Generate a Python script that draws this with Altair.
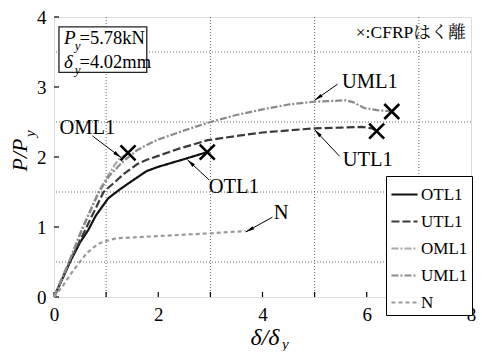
import altair as alt
import pandas as pd
import numpy as np

SERIES = ["OTL1", "UTL1", "OML1", "UML1", "N"]

otl1_x = [0, 0.32, 0.5, 0.66, 0.8, 1.04, 1.25, 1.52, 1.78, 2.0, 2.5, 2.94]
otl1_y = [0, 0.52, 0.78, 0.96, 1.16, 1.41, 1.53, 1.67, 1.80, 1.86, 1.97, 2.07]

utl1_x = [0, 0.32, 0.6, 0.95, 1.36, 1.6, 1.78, 2.4, 2.95, 3.5, 4.0, 4.5, 5.0, 5.5, 5.9, 6.1, 6.19]
utl1_y = [0, 0.53, 0.96, 1.50, 1.77, 1.90, 1.96, 2.12, 2.24, 2.30, 2.35, 2.38, 2.41, 2.42, 2.43, 2.41, 2.37]

oml1_x = [0, 0.3, 0.53, 0.85, 1.05, 1.23, 1.42]
oml1_y = [0, 0.53, 0.96, 1.50, 1.75, 1.96, 2.06]

uml1_x = [0, 0.3, 0.53, 0.85, 1.05, 1.3, 1.6, 1.8, 2.0, 2.5, 3.0, 3.5, 4.0, 4.5, 5.0, 5.6, 5.75, 5.95, 6.2, 6.48]
uml1_y = [0, 0.52, 0.95, 1.48, 1.72, 1.92, 2.10, 2.18, 2.25, 2.38, 2.50, 2.60, 2.68, 2.75, 2.79, 2.81, 2.78, 2.70, 2.67, 2.65]

n_x = [0, 0.16, 0.38, 0.63, 0.85, 1.0, 1.2, 1.5, 2.0, 2.5, 3.0, 3.4, 3.68]
n_y = [0, 0.15, 0.39, 0.63, 0.76, 0.80, 0.84, 0.85, 0.87, 0.89, 0.91, 0.93, 0.94]

# CFRP debonding markers
peel_x = [2.94, 6.19, 1.42, 6.48]
peel_y = [2.07, 2.37, 2.06, 2.65]

# annotation labels and arrows
ann_text = ["OML1", "OTL1", "UTL1", "UML1", "N"]
ann_x = [0.64, 3.45, 6.02, 6.06, 4.36]
ann_y = [2.41, 1.57, 1.96, 3.07, 1.20]
arr_x_tail = [0.74, 2.98, 5.48, 5.44, 4.19]
arr_y_tail = [2.30, 1.67, 2.01, 3.04, 1.14]
arr_x_head = [1.29, 2.56, 5.00, 5.00, 3.68]
arr_y_head = [1.99, 1.96, 2.39, 2.81, 0.93]

grid_x = [1, 3, 5, 7]
grid_y = [0.5, 1.5, 2.5, 3.5]
tick_x = [0, 1, 2, 3, 4, 5, 6, 7, 8]
tick_y = [0, 1, 2, 3, 4]

W, H = 417, 280
XMAX, YMAX = 8, 4
FONT = "Liberation Serif, Times New Roman, Tinos, DejaVu Serif, serif"
JFONT = "Liberation Serif, Times New Roman, Noto Serif CJK JP, Noto Sans CJK JP, serif"

rows = []
for name, xs, ys in [("OTL1", otl1_x, otl1_y), ("UTL1", utl1_x, utl1_y),
                     ("OML1", oml1_x, oml1_y), ("UML1", uml1_x, uml1_y),
                     ("N", n_x, n_y)]:
    for i, (a, b) in enumerate(zip(xs, ys)):
        rows.append({"series": name, "x": a, "y": b, "i": i})
curves = pd.DataFrame(rows)

xaxis = alt.Axis(values=[0, 2, 4, 6, 8], ticks=False, domain=False, grid=False,
                 labelFont=FONT, labelFontSize=19, labelColor="black",
                 labelPadding=8, labelFlush=False, title=None)
yaxis = alt.Axis(values=[0, 1, 2, 3, 4], ticks=False, domain=False, grid=False,
                 labelFont=FONT, labelFontSize=19, labelColor="black",
                 labelPadding=8, labelFlush=False, title=None)
xs_ = alt.Scale(domain=[0, XMAX], nice=False, zero=False)
ys_ = alt.Scale(domain=[0, YMAX], nice=False, zero=False)


def X(f):
    return alt.X(f, type="quantitative", scale=xs_, axis=xaxis, title=None)


def Y(f):
    return alt.Y(f, type="quantitative", scale=ys_, axis=yaxis, title=None)


grid_v = alt.Chart(pd.DataFrame({"x": grid_x})).mark_rule(
    color="#555", strokeDash=[1, 2], strokeWidth=0.9).encode(x=X("x"))
grid_h = alt.Chart(pd.DataFrame({"y": grid_y})).mark_rule(
    color="#555", strokeDash=[1, 2], strokeWidth=0.9).encode(y=Y("y"))

ticks_x = alt.Chart(pd.DataFrame({"x": tick_x})).mark_rule(
    color="black", strokeWidth=1.2).encode(x=X("x"), y=alt.value(H), y2=alt.value(H - 5))
ticks_y = alt.Chart(pd.DataFrame({"y": tick_y})).mark_rule(
    color="black", strokeWidth=1.2).encode(y=Y("y"), x=alt.value(0), x2=alt.value(5))

legend = alt.Legend(orient="none", legendX=332, legendY=159, title=None,
                    fillColor="white", strokeColor="black", padding=4,
                    rowPadding=4, symbolType="stroke", symbolSize=680,
                    labelFont=FONT, labelFontSize=17, labelColor="black",
                    labelOffset=2, symbolOpacity=1)

lines = alt.Chart(curves).mark_line().encode(
    x=X("x"), y=Y("y"), order="i:Q",
    color=alt.Color("series:N", sort=SERIES, legend=legend,
                    scale=alt.Scale(domain=SERIES,
                                    range=["#111111", "#3a3a3a", "#a8a8a8", "#8a8a8a", "#9a9a9a"])),
    strokeDash=alt.StrokeDash("series:N", sort=SERIES,
                              scale=alt.Scale(domain=SERIES,
                                              range=[[1, 0], [8, 3], [7, 2, 2, 2], [7, 2, 2, 2], [4, 3]])),
    strokeWidth=alt.StrokeWidth("series:N", sort=SERIES,
                                scale=alt.Scale(domain=SERIES, range=[2.2, 2.2, 2.4, 2.2, 1.6])),
)

peel = alt.Chart(pd.DataFrame({"x": peel_x, "y": peel_y})).mark_point(
    shape="M-1,-1L1,1M-1,1L1,-1", size=225, filled=False, color="black",
    strokeWidth=2.6, opacity=1).encode(x=X("x"), y=Y("y"))

ann = alt.Chart(pd.DataFrame({"t": ann_text, "x": ann_x, "y": ann_y})).mark_text(
    font=FONT, fontSize=20.5, color="black", align="center", baseline="middle").encode(
    x=X("x"), y=Y("y"), text="t:N")

arr_df = pd.DataFrame({"x": arr_x_tail, "y": arr_y_tail, "x2": arr_x_head, "y2": arr_y_head})
sx, sy = W / XMAX, H / YMAX
dx = (arr_df["x2"] - arr_df["x"]) * sx
dy = -(arr_df["y2"] - arr_df["y"]) * sy
arr_df["ang"] = np.mod(np.degrees(np.arctan2(dx, -dy)), 360)
arr_lines = alt.Chart(arr_df).mark_rule(color="black", strokeWidth=1).encode(
    x=X("x"), y=Y("y"), x2="x2", y2="y2")
arr_heads = alt.Chart(arr_df).mark_point(
    shape="M0,0L0.38,1.8L-0.38,1.8Z", size=90, filled=True, color="black",
    opacity=1, strokeWidth=0).encode(x=X("x2"), y=Y("y2"), angle=alt.Angle("ang:Q", scale=None))

# info box
box = alt.Chart(pd.DataFrame({"x": [0.095], "x2": [1.78], "y": [3.21], "y2": [3.86]})).mark_rect(
    fill="white", stroke="#222", strokeWidth=1.3).encode(x=X("x"), x2="x2", y=Y("y"), y2="y2")
info_sym = ["P", "δ"]
info_val = ["=5.78kN", "=4.02mm"]
info_line_y = [3.70, 3.36]
info_df = pd.DataFrame({"s": info_sym, "v": info_val, "y": info_line_y,
                        "ys": [v - 0.11 for v in info_line_y], "xs": [0.19] * 2,
                        "xsub": [0.40] * 2, "xv": [0.49] * 2, "sub": ["y", "y"]})
info_s = alt.Chart(info_df).mark_text(font=FONT, fontSize=19, fontStyle="italic", color="black",
                                      align="left", baseline="middle").encode(
    x=X("xs"), y=Y("y"), text="s:N")
info_sub = alt.Chart(info_df).mark_text(font=FONT, fontSize=13, fontStyle="italic", color="black",
                                        align="left", baseline="middle").encode(
    x=X("xsub"), y=Y("ys"), text="sub:N")
info_v = alt.Chart(info_df).mark_text(font=FONT, fontSize=18.5, color="black",
                                      align="left", baseline="middle").encode(
    x=X("xv"), y=Y("y"), text="v:N")

note = alt.Chart(pd.DataFrame({"t": ["×:CFRPはく離"], "x": [7.9], "y": [3.77]})).mark_text(
    font=JFONT, fontSize=17.5, color="black",
    align="right", baseline="middle").encode(x=X("x"), y=Y("y"), text="t:N")

# axis titles (with subscripts)
xt = alt.Chart(pd.DataFrame({"t": ["δ/δ"]})).mark_text(
    font=FONT, fontSize=24, fontStyle="italic", color="black", align="center",
    baseline="middle").encode(x=alt.value(211), y=alt.value(321), text="t:N")
xt_sub = alt.Chart(pd.DataFrame({"t": ["y"]})).mark_text(
    font=FONT, fontSize=15, fontStyle="italic", color="black", align="left",
    baseline="middle").encode(x=alt.value(228), y=alt.value(327), text="t:N")
yt = alt.Chart(pd.DataFrame({"t": ["P/P"]})).mark_text(
    font=FONT, fontSize=22, fontStyle="italic", color="black", align="center",
    baseline="middle", angle=270).encode(x=alt.value(-34), y=alt.value(138), text="t:N")
yt_sub = alt.Chart(pd.DataFrame({"t": ["y"]})).mark_text(
    font=FONT, fontSize=15, fontStyle="italic", color="black", align="left",
    baseline="middle", angle=270).encode(x=alt.value(-24), y=alt.value(120), text="t:N")

chart = alt.layer(
    grid_v, grid_h, ticks_x, ticks_y, lines, peel, arr_lines, arr_heads, ann,
    box, info_s, info_sub, info_v, note, xt, xt_sub, yt, yt_sub
).properties(
    width=W, height=H,
    padding={"left": 46, "top": 9, "right": 5, "bottom": 54},
    autosize=alt.AutoSizeParams(type="none"),
).configure_view(
    stroke="black", strokeWidth=2.2
).configure(background="white")

chart.save("out.html", embed_options={"renderer": "svg", "actions": False})
